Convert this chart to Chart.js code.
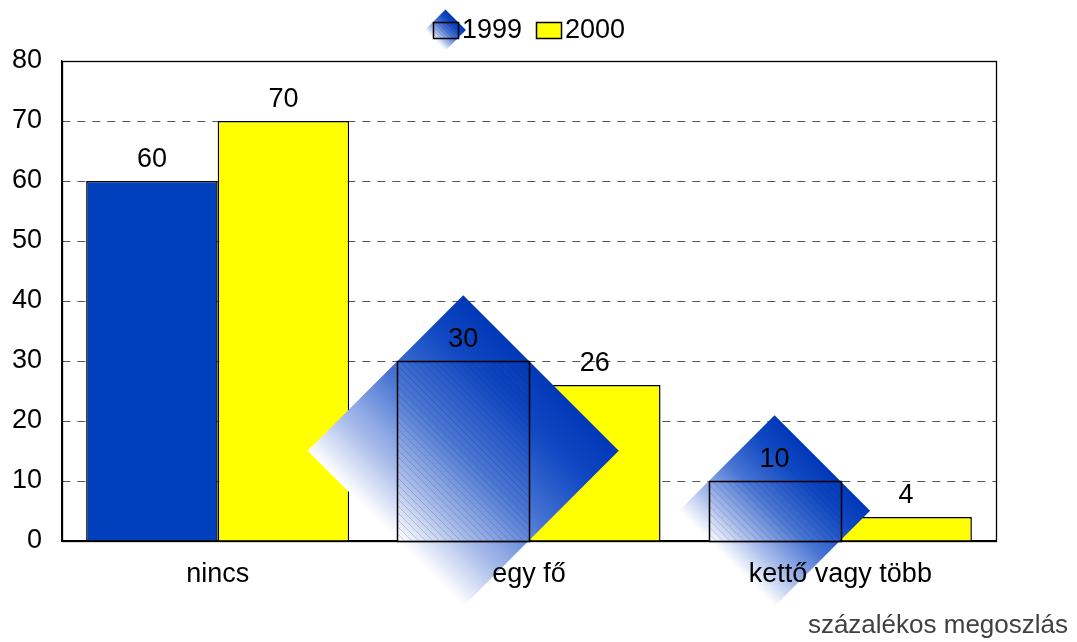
<!DOCTYPE html>
<html lang="hu">
<head>
<meta charset="utf-8">
<title>százalékos megoszlás</title>
<script src="https://cdn.jsdelivr.net/npm/chart.js@4.4.1/dist/chart.umd.min.js"></script>
<style>
  html, body { margin: 0; padding: 0; background: #fff; }
  #wrap { position: relative; width: 1077px; height: 642px; }
</style>
</head>
<body>
<div id="wrap"><canvas id="myChart" width="1077" height="642"></canvas></div>
<script>
// adatok
const categories = ['nincs', 'egy fő', 'kettő vagy több'];
const seriesNames = ['1999', '2000'];
const values1999 = [60, 30, 10];
const values2000 = [70, 26, 4];
const yTickValues = [0, 10, 20, 30, 40, 50, 60, 70, 80];
const footnote = 'százalékos megoszlás';

const FONT = "'Liberation Sans', Arial, sans-serif";
const BLUE = '#0040bd';
const YELLOW = '#ffff00';

// a kék -> fehér átmenetes rombusz (az eredeti ábra kitöltése)
function drawDiamond(ctx, cx, cy, r) {
  const g = ctx.createLinearGradient(cx + r / 2, cy - r / 2, cx - r / 2, cy + r / 2);
  g.addColorStop(0, '#0038b8');
  g.addColorStop(0.2, '#1048c2');
  g.addColorStop(0.5, '#4a76d4');
  g.addColorStop(0.8, '#b0c2ec');
  g.addColorStop(1, '#ffffff');
  ctx.fillStyle = g;
  ctx.beginPath();
  ctx.moveTo(cx, cy - r);
  ctx.lineTo(cx + r, cy);
  ctx.lineTo(cx, cy + r);
  ctx.lineTo(cx - r, cy);
  ctx.closePath();
  ctx.fill();
}

function hatchRect(ctx, left, top, w, h, step) {
  ctx.save();
  ctx.beginPath();
  ctx.rect(left, top, w, h);
  ctx.clip();
  ctx.strokeStyle = 'rgba(40, 40, 60, 0.28)';
  ctx.lineWidth = 0.7;
  for (let d = -h; d < w + h; d += step) {
    ctx.beginPath();
    ctx.moveTo(left + d, top);
    ctx.lineTo(left + d + h, top + h);
    ctx.stroke();
  }
  ctx.restore();
  ctx.strokeStyle = '#000';
  ctx.lineWidth = 1.5;
  ctx.strokeRect(Math.round(left) + 0.5, Math.round(top) + 0.5, Math.round(w), Math.round(h));
}

const excelLook = {
  id: 'excelLook',
  afterDatasetsDraw(chart) {
    const ctx = chart.ctx;
    const area = chart.chartArea;
    const meta0 = chart.getDatasetMeta(0);

    // rombuszok a 2. és 3. kék oszlopon
    ctx.save();
    meta0.data.forEach((bar, i) => {
      if (i === 0) return;
      const p = bar.getProps(['x', 'y', 'base', 'width'], true);
      const h = p.base - p.y;
      const r = (p.width + h) / 2;
      drawDiamond(ctx, p.x, (p.y + p.base) / 2, r);
      hatchRect(ctx, p.x - p.width / 2, p.y, p.width, h, 7);
    });
    ctx.restore();

    // keret
    ctx.save();
    ctx.strokeStyle = '#000';
    ctx.lineWidth = 1.3;
    ctx.strokeRect(area.left + 0.5, area.top + 0.5, area.right - area.left, area.bottom - area.top);
    ctx.restore();

    // értékcímkék és kategóriafeliratok (a rombuszok fölé)
    ctx.save();
    ctx.font = '27px ' + FONT;
    ctx.fillStyle = '#000';
    ctx.textAlign = 'center';
    ctx.textBaseline = 'alphabetic';
    chart.data.datasets.forEach((ds, di) => {
      chart.getDatasetMeta(di).data.forEach((bar, i) => {
        ctx.fillText(String(ds.data[i]), bar.x, bar.y - 14);
      });
    });
    const xs = chart.scales.x;
    categories.forEach((c, i) => {
      ctx.fillText(c, xs.getPixelForTick(i), area.bottom + 41);
    });
    ctx.restore();
  },
  afterDraw(chart) {
    const ctx = chart.ctx;
    const area = chart.chartArea;
    ctx.save();
    ctx.font = '27px ' + FONT;
    ctx.textBaseline = 'alphabetic';
    // jelmagyarázat
    const boxW = 25, boxH = 16;
    const w1 = ctx.measureText(seriesNames[0]).width;
    const w2 = ctx.measureText(seriesNames[1]).width;
    const total = boxW + 4 + w1 + 14 + boxW + 4 + w2;
    let x = (area.left + area.right) / 2 - total / 2;
    const boxTop = 22;
    // 1999
    drawDiamond(ctx, x + boxW / 2, boxTop + boxH / 2, (boxW + boxH) / 2);
    hatchRect(ctx, x, boxTop, boxW, boxH, 4);
    ctx.fillStyle = '#000';
    ctx.fillText(seriesNames[0], x + boxW + 4, 38);
    x += boxW + 4 + w1 + 14;
    // 2000
    ctx.fillStyle = YELLOW;
    ctx.fillRect(x, boxTop, boxW, boxH);
    ctx.strokeStyle = '#000';
    ctx.lineWidth = 1.5;
    ctx.strokeRect(Math.round(x) + 0.5, boxTop + 0.5, boxW, boxH);
    ctx.fillStyle = '#000';
    ctx.fillText(seriesNames[1], x + boxW + 4, 38);

    // lábjegyzet
    ctx.font = '26px ' + FONT;
    ctx.fillStyle = '#404040';
    ctx.textAlign = 'right';
    ctx.fillText(footnote, chart.width - 9, 633);
    ctx.restore();
  }
};

const ctx = document.getElementById('myChart').getContext('2d');
new Chart(ctx, {
  type: 'bar',
  data: {
    labels: categories,
    datasets: [
      {
        label: seriesNames[0],
        data: values1999,
        backgroundColor: (c) => (c.dataIndex === 0 ? BLUE : 'rgba(0,0,0,0)'),
        borderColor: '#000',
        borderWidth: 1.5,
        categoryPercentage: 0.845,
        barPercentage: 1.0,
      },
      {
        label: seriesNames[1],
        data: values2000,
        backgroundColor: YELLOW,
        borderColor: '#000',
        borderWidth: 1.5,
        categoryPercentage: 0.845,
        barPercentage: 1.0,
      },
    ],
  },
  options: {
    responsive: false,
    animation: false,
    layout: { padding: { top: 61, right: 81, bottom: 0, left: 0 } },
    plugins: {
      legend: { display: false },
      tooltip: { enabled: false },
    },
    scales: {
      x: {
        grid: { display: false, drawTicks: false },
        border: { display: true, color: '#000', width: 1.3 },
        ticks: { color: 'rgba(0,0,0,0)', font: { family: FONT, size: 27 }, padding: 16, maxRotation: 0 },
        afterFit: (scale) => { scale.height = 101; },
      },
      y: {
        min: 0,
        max: 80,
        afterBuildTicks: (scale) => { scale.ticks = yTickValues.map(v => ({ value: v })); },
        grid: { color: '#555', lineWidth: 1, drawTicks: false },
        border: { display: true, color: '#000', width: 1.3, dash: [8, 7] },
        ticks: { color: '#000', font: { family: FONT, size: 27 }, padding: 20 },
        afterFit: (scale) => { scale.width = 62; },
      },
    },
  },
  plugins: [excelLook],
});
</script>
</body>
</html>
